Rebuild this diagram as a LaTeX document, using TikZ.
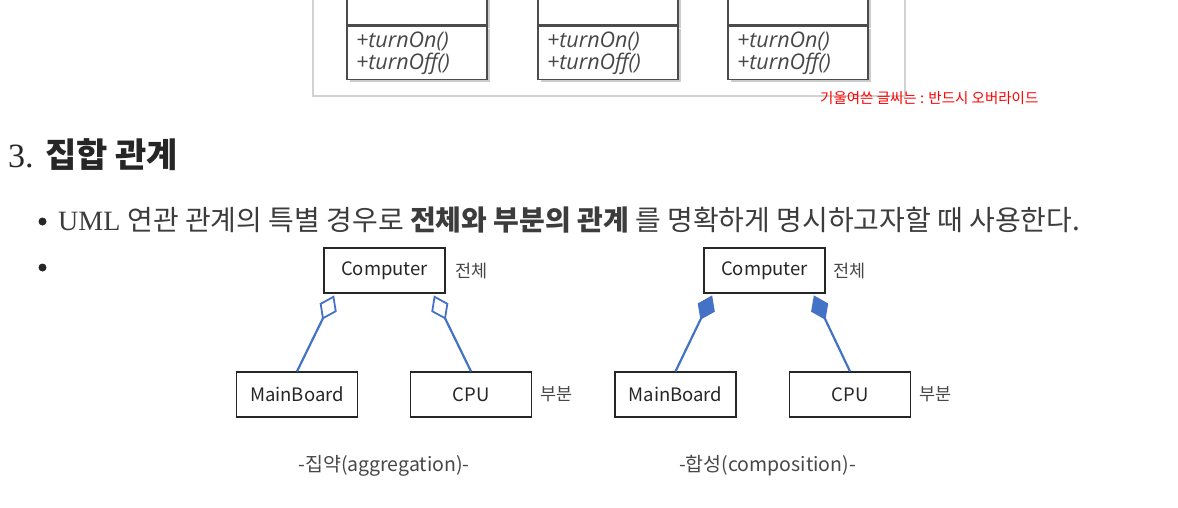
\documentclass[tikz,border=0pt]{standalone}
\usepackage{fontspec}
\setmainfont{Liberation Serif}
\newfontfamily\kr{Noto Sans CJK KR}
\newfontfamily\itsans{Open Sans}
\usetikzlibrary{arrows.meta,positioning,shadows}
\definecolor{linkblue}{HTML}{4472C4}
\definecolor{framegray}{HTML}{D2D2D2}
\definecolor{inkgray}{HTML}{262626}

\begin{document}
\begin{tikzpicture}[x=1pt, y=-1pt,
	cls/.style = {rectangle, draw=black!85, line width=1.2pt, minimum width=121pt, minimum height=45pt, inner sep=0pt, font=\kr\fontsize{18.5}{22}\selectfont, text=inkgray},
	tag/.style = {inner sep=0pt, font=\kr\fontsize{17.5}{20}\selectfont, text=inkgray!85},
	caption/.style = {inner sep=0pt, font=\kr\fontsize{19.5}{22}\selectfont, text=inkgray!85},
	agg/.style = {draw=linkblue, line width=2.2pt, shorten >=2pt, -{Diamond[open, length=27pt, width=19pt, line width=1.8pt]}},
	comp/.style = {draw=linkblue, line width=2.2pt, shorten >=2pt, -{Diamond[fill=linkblue, length=27pt, width=19pt]}},
	attr/.style = {rectangle, draw=black!70, fill=white, line width=1.3pt, minimum width=140pt, minimum height=70pt, inner sep=0pt, drop shadow={shadow xshift=3pt, shadow yshift=-3pt, fill=black!40}},
	ops/.style = {rectangle, draw=black!70, fill=white, line width=1.3pt, text width=122pt, inner xsep=9pt, minimum height=53pt, inner ysep=0pt, align=left, font=\itsans\itshape\fontsize{21.5}{22}\selectfont, text=inkgray!85, drop shadow={shadow xshift=3pt, shadow yshift=-3pt, fill=black!40}},
	dot/.style = {circle, fill=inkgray, minimum size=8pt, inner sep=0pt}
	]
	\useasboundingbox (0,0) rectangle (1178,507);
	\clip (0,0) rectangle (1178,507);
	
	% === === === Top class boxes === === ===
	\draw[framegray, line width=2.5pt] (313,-5) -- (313,96) -- (905,96) -- (905,-5);
	
	\node[attr]	(at1)	at	(417,-10)	{};
	\node[ops, anchor=north]	(op1)	at	(at1.south)	{+turnOn()\\+turnOff()};
	\node[attr]	(at2)	at	(608,-10)	{};
	\node[ops, anchor=north]	(op2)	at	(at2.south)	{+turnOn()\\+turnOff()};
	\node[attr]	(at3)	at	(798,-10)	{};
	\node[ops, anchor=north]	(op3)	at	(at3.south)	{+turnOn()\\+turnOff()};
	
	\node[anchor=west, inner sep=0pt, text=red, font=\kr\fontsize{14.5}{17}\selectfont] (note) at (820,98) {기울여쓴 글씨는 : 반드시 오버라이드};
	
	% === === === Heading and bullets === === ===
	\node[anchor=base west, inner sep=0pt, text=inkgray] (title) at (8,167) {\fontsize{34}{40}\selectfont 3. {\kr\bfseries 집합 관계}};
	
	\node[dot]	(bul1)	at	(42.5,221.5)	{};
	\node[anchor=base west, inner sep=0pt, text=inkgray!90] (line1) at (58,230) {\fontsize{28}{32}\selectfont UML {\kr 연관 관계의 특별 경우로 {\bfseries 전체와 부분의 관계} 를 명확하게 명시하고자할 때 사용한다.}};
	\node[dot]	(bul2)	at	(42.5,267.5)	{};
	
	% === === === Aggregation === === ===
	\node[cls]	(pc1)	at	(384.5,270.5)	{Computer};
	\node[cls]	(mb1)	at	(297,394.5)	{MainBoard};
	\node[cls]	(cpu1)	at	(471,394.5)	{CPU};
	\node[tag, anchor=west, right=10pt of pc1]	(whole1)	{전체};
	\node[tag, anchor=west, right=8pt of cpu1]	(part1)	{부분};
	\node[caption]	(agcap)	at	(384,466)	{-집약(aggregation)-};
	
	\draw[agg] (mb1.north) to ([xshift=-49.5pt]pc1.south);
	\draw[agg] (cpu1.north) to ([xshift=48.5pt]pc1.south);
	
	% === === === Composition === === ===
	\node[cls]	(pc2)	at	(764.5,270.5)	{Computer};
	\node[cls]	(mb2)	at	(675.5,394.5)	{MainBoard};
	\node[cls]	(cpu2)	at	(850,394.5)	{CPU};
	\node[tag, anchor=west, right=8pt of pc2]	(whole2)	{전체};
	\node[tag, anchor=west, right=8pt of cpu2]	(part2)	{부분};
	\node[caption]	(cocap)	at	(767.5,466)	{-합성(composition)-};
	
	\draw[comp] (mb2.north) to ([xshift=-51.5pt]pc2.south);
	\draw[comp] (cpu2.north) to ([xshift=48.5pt]pc2.south);
	
\end{tikzpicture}
\end{document}
